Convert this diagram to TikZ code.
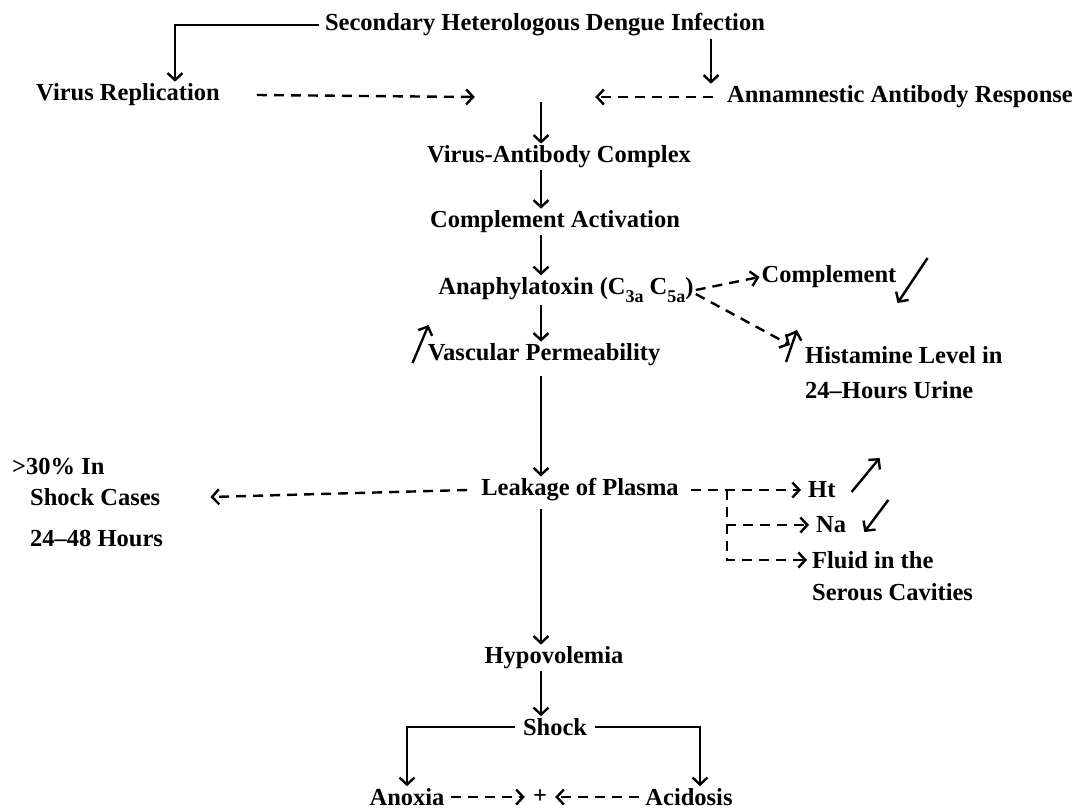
\documentclass[tikz,border=0pt]{standalone}
\usepackage{fontspec}
\setmainfont{Liberation Serif}
\usetikzlibrary{arrows.meta,calc}
\newcommand{\subsc}[1]{\raisebox{-0.32em}{\fontsize{18}{18}\selectfont #1}}
\begin{document}
\begin{tikzpicture}[x=1pt,y=-1pt,
  lbl/.style={font=\bfseries\fontsize{24.5}{28}\selectfont, inner sep=2pt},
  arr/.style={line width=2.4pt,-{Straight Barb[length=7pt,width=15pt,line width=2.4pt]}},
  darr/.style={arr, dash pattern=on 10pt off 7pt},
  ln/.style={line width=2.4pt}]
\fill[white] (0,0) rectangle (1089,809);
\useasboundingbox (0,0) rectangle (1089,809);
% nodes
\node[lbl] (sec) at (545,25) {Secondary Heterologous Dengue Infection};
\node[lbl] (vr) at (128,95) {Virus Replication};
\node[lbl] (aar) at (900,97) {Annamnestic Antibody Response};
\node[inner sep=0pt, minimum width=120pt, minimum height=10pt] (mid) at (535,97) {};
\coordinate (colx) at (541,0);
\node[lbl] (vac) at (559,157) {Virus-Antibody Complex};
\node[lbl] (ca) at (555,222) {Complement Activation};
\node[lbl] (ana) at (566,290) {Anaphylatoxin (C\subsc{3a} C\subsc{5a})};
\node[lbl] (vp) at (544,355) {Vascular Permeability};
\node[lbl] (lp) at (580,490) {Leakage of Plasma};
\node[lbl] (hyp) at (554,658) {Hypovolemia};
\node[lbl] (shock) at (555,727) {Shock};
\node[lbl] (anoxia) at (407,797) {Anoxia};
\node[lbl] (plus) at (540,797) {+};
\node[lbl] (acid) at (689,797) {Acidosis};
\node[lbl] (comp) at (829,277) {Complement};
\node[lbl,anchor=west] (hist) at (803,355) {Histamine Level in};
\node[lbl,anchor=west] (urine) at (803,390) {24–Hours Urine};
\node[lbl,anchor=west] (pct) at (10,467) {>30\% In};
\node[lbl,anchor=west] (sc) at (28,497) {Shock Cases};
\node[lbl,anchor=west] (hrs) at (28,538) {24–48 Hours};
\node[lbl,anchor=west] (ht) at (806,490) {Ht};
\node[lbl,anchor=west] (na) at (814,525) {Na};
\node[lbl,anchor=west] (fluid) at (810,560) {Fluid in the};
\node[lbl,anchor=west] (ser) at (810,592) {Serous Cavities};
% top connectors
\draw[arr] ([xshift=-4pt]sec.west) -| ([xshift=47pt]vr.north);
\draw[arr] ([xshift=166pt]sec.south) -- ([xshift=166pt]sec.south |- aar.north);
\draw[darr] ([xshift=35pt]vr.east) -- (mid.west);
\draw[darr] ([xshift=-12pt]aar.west) -- (mid.east);
% main column
\draw[arr] (mid.south -| colx) -- (vac.north -| colx);
\draw[arr] (vac.south -| colx) -- (ca.north -| colx);
\draw[arr] (ca.south -| colx) -- (ana.north -| colx);
\draw[arr] (ana.south -| colx) -- (vp.north -| colx);
\draw[arr] ([yshift=-8pt]vp.south -| colx) -- (lp.north -| colx);
\draw[arr] ([yshift=-5pt]lp.south -| colx) -- (hyp.north -| colx);
\draw[arr] (hyp.south -| colx) -- (shock.north -| colx);
% shock branches
\draw[arr, shorten <=6pt] (shock.west) -| (anoxia.north);
\draw[arr, shorten <=6pt] (shock.east) -| ([xshift=11pt]acid.north);
\draw[darr, shorten <=4pt, shorten >=6pt] (anoxia.east) -- (plus.west);
\draw[darr, shorten <=4pt, shorten >=6pt] (acid.west) -- (plus.east);
% anaphylatoxin side
\draw[darr] (ana.east) -- (comp.west);
\draw[darr] ([yshift=-4pt]ana.east) -- ([shift={(-13pt,10pt)}]hist.west);
\draw[arr] ([shift={(29pt,19pt)}]comp.east) -- ([shift={(-1pt,-26pt)}]comp.east);
\draw[arr] ([shift={(-17pt,-7pt)}]hist.west) -- ([shift={(-6pt,25pt)}]hist.west);
\draw[arr] ([shift={(-13pt,-8pt)}]vp.west) -- ([shift={(3pt,30pt)}]vp.west);
% leakage side
\draw[darr] ([xshift=-12pt]lp.west) -- ([xshift=48pt]sc.east);
\draw[darr, shorten >=5pt] ([xshift=10pt]lp.east) -- (ht.west);
\coordinate (br) at (727,490);
\draw[darr, shorten >=5pt] (br) |- (na.west);
\draw[darr, shorten >=3pt] (br) |- (fluid.west);
\draw[arr] ([shift={(14pt,-2pt)}]ht.east) -- ([shift={(42pt,32pt)}]ht.east);
\draw[arr] ([shift={(40pt,25pt)}]na.east) -- ([shift={(16pt,-7pt)}]na.east);
\end{tikzpicture}
\end{document}
